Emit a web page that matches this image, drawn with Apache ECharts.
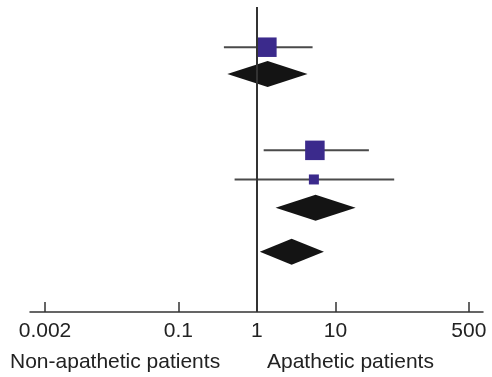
<!DOCTYPE html>
<html><head><meta charset="utf-8">
<script src="https://cdn.jsdelivr.net/npm/echarts@6/dist/echarts.min.js"></script>
<style>html,body{margin:0;padding:0;background:#fff}#c{width:492px;height:377px}</style>
</head><body><div id="c"></div>
<script>
// Forest plot data (odds ratios, log scale)
const rowPos   = [1.45, 2.42, 5.17, 6.22, 7.24, 8.83];
const estimate = [1.34, 1.37, 5.48, 5.32, 5.59, 2.77];
const lowerCI  = [0.38, 0.42, 1.22, 0.52, 1.73, 1.09];
const upperCI  = [5.12, 4.42, 26.7, 56.1, 18.1, 7.14];
const rowKind  = ['study', 'pooled', 'study', 'study', 'pooled', 'pooled'];
const studyWeight = [2, 0, 2, 1, 0, 0];
const tickValues = [0.002, 0.1, 1, 10, 500];
const tickLabels = ['0.002', '0.1', '1', '10', '500'];
const leftLabel = 'Non-apathetic patients';
const rightLabel = 'Apathetic patients';

const FONT = 'Liberation Sans, Arial, Helvetica, sans-serif';
const chart = echarts.init(document.getElementById('c'));
const data = rowPos.map((r, i) => [estimate[i], r, lowerCI[i], upperCI[i], rowKind[i] === 'study' ? 0 : 1, studyWeight[i]]);

chart.setOption({
  animation: false,
  grid: { left: 30, right: 9, top: 7, bottom: 65 },
  xAxis: {
    type: 'log', logBase: 10, position: 'bottom',
    min: Math.pow(10, -2.89), max: Math.pow(10, 2.88),
    axisLine: { show: true, onZero: false, lineStyle: { color: '#333', width: 1.5 } },
    axisTick: { show: true, inside: true, length: 10, lineStyle: { color: '#333', width: 1.5 }, customValues: tickValues },
    axisLabel: { show: true, customValues: tickValues, margin: 9, color: '#222', fontSize: 21, fontFamily: FONT,
      formatter: v => { let k = tickValues.findIndex(t => Math.abs(Math.log10(t) - Math.log10(v)) < 1e-6); return k >= 0 ? tickLabels[k] : ''; } },
    splitLine: { show: false }, minorTick: { show: false }
  },
  yAxis: { type: 'value', inverse: true, min: 0, max: 11, show: false },
  series: [{
    type: 'custom',
    data: data,
    encode: { x: [0, 2, 3], y: 1 },
    renderItem: (params, api) => {
      const est = api.value(0), row = api.value(1), lo = api.value(2), hi = api.value(3), kind = api.value(4), w = api.value(5);
      const pc = api.coord([est, row]), pl = api.coord([lo, row]), ph = api.coord([hi, row]);
      if (kind === 1) {
        const h = 13;
        return { type: 'polygon', shape: { points: [[pl[0], pc[1]], [pc[0], pc[1] - h], [ph[0], pc[1]], [pc[0], pc[1] + h]] },
          style: { fill: '#141414' } };
      }
      const s = w === 2 ? 19.5 : 10;
      return { type: 'group', children: [
        { type: 'line', shape: { x1: pl[0], y1: pc[1], x2: ph[0], y2: pc[1] }, style: { stroke: '#4a4a4a', lineWidth: 2 } },
        { type: 'rect', shape: { x: pc[0] - s / 2, y: pc[1] - s / 2, width: s, height: s }, style: { fill: '#3b2a8c' } }
      ] };
    },
    markLine: {
      silent: true, symbol: 'none', label: { show: false },
      lineStyle: { color: '#333', width: 2, type: 'solid' },
      data: [{ xAxis: 1 }]
    },
    z: 3
  }],
  graphic: [
    { type: 'text', left: 10, top: 352, style: { text: leftLabel, font: '21px ' + FONT, fill: '#222' } },
    { type: 'text', left: 267, top: 352, style: { text: rightLabel, font: '21px ' + FONT, fill: '#222' } }
  ]
});
</script></body></html>
